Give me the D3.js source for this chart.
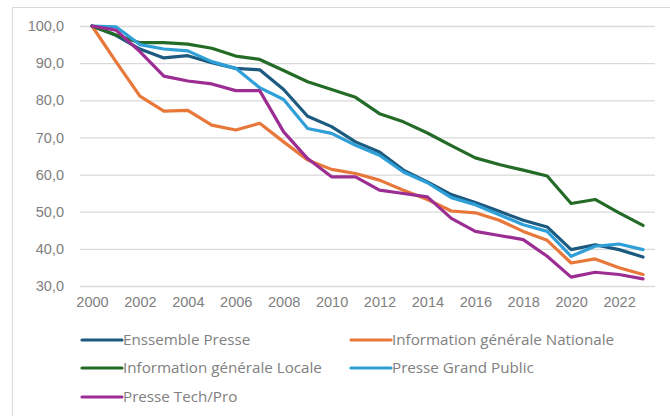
<!DOCTYPE html>
<html>
<head>
<meta charset="utf-8">
<script src="https://cdn.jsdelivr.net/npm/d3@7"></script>
<style>
  body { margin: 0; background: #fff; }
  svg { display: block; font-family: "Open Sans", sans-serif; }
  .tick text { fill: #808080; font-size: 14.5px; }
</style>
</head>
<body>
<div id="chart"></div>
<script>
// years on the x axis (index base 100 in 2000)
const years = d3.range(2000, 2024);
const yTicks = [30, 40, 50, 60, 70, 80, 90, 100];

const ensemble = [100, 97.5, 93.8, 91.4, 92, 90.1, 88.6, 88.2, 82.9, 75.7, 72.9, 68.8, 66.1, 61.2, 58, 54.6, 52.5, 50.1, 47.7, 45.9, 39.8, 41.1, 39.8, 37.8];
const nationale = [100, 90.4, 81.1, 77.1, 77.3, 73.3, 72, 73.8, 68.8, 63.9, 61.4, 60.3, 58.5, 55.8, 53.3, 50.2, 49.7, 47.7, 44.7, 42.3, 36.2, 37.3, 34.9, 33.1];
const locale = [100, 97.6, 95.5, 95.5, 95.1, 94, 91.9, 91, 88, 85, 82.9, 80.8, 76.4, 74.2, 71.2, 67.8, 64.5, 62.7, 61.2, 59.6, 52.2, 53.3, 49.7, 46.3];
const grandPublic = [100, 99.8, 95, 93.8, 93.3, 90.4, 88.6, 83.4, 80.2, 72.4, 71.1, 67.9, 65.2, 60.7, 57.8, 53.8, 51.9, 49.2, 46.5, 44.7, 38, 40.7, 41.3, 39.8];
const techPro = [100, 98.9, 93.1, 86.5, 85.2, 84.4, 82.6, 82.6, 71.5, 64.3, 59.4, 59.4, 55.8, 54.9, 54, 48.2, 44.7, 43.6, 42.5, 38, 32.4, 33.7, 33.1, 31.9];

const seriesNames = ["Enssemble Presse", "Information générale Nationale", "Information générale Locale", "Presse Grand Public", "Presse Tech/Pro"];
const seriesValues = [ensemble, nationale, locale, grandPublic, techPro];
const colors = ["#1c5a80", "#e8773a", "#246b27", "#2f9fd8", "#9b2d93"];

const width = 670, height = 416;

const svg = d3.select("#chart").append("svg")
  .attr("width", width)
  .attr("height", height);

// chart frame
svg.append("rect")
  .attr("x", 12.5).attr("y", 7.5)
  .attr("width", 700).attr("height", 500)
  .attr("fill", "#fff")
  .attr("stroke", "#d9d9d9");

const x = d3.scalePoint()
  .domain(years)
  .range([80, 655])
  .padding(0.5);

const y = d3.scaleLinear()
  .domain([30, 100])
  .range([286, 26]);

// gridlines + y labels
const yAxis = svg.append("g")
  .attr("transform", "translate(80,0)")
  .call(d3.axisLeft(y)
    .tickValues(yTicks)
    .tickSize(-575)
    .tickPadding(16)
    .tickFormat(d => d3.format(".1f")(d).replace(".", ",")));
yAxis.select(".domain").remove();
yAxis.selectAll(".tick line").attr("stroke", "#d9d9d9").attr("stroke-width", 1.3);

// x labels every other year
const xAxis = svg.append("g")
  .attr("transform", "translate(0,286)")
  .call(d3.axisBottom(x)
    .tickValues(years.filter(d => d % 2 === 0))
    .tickSize(0)
    .tickPadding(11));
xAxis.select(".domain").remove();

const line = d3.line()
  .x((d, i) => x(years[i]))
  .y(d => y(d));

svg.selectAll(".series")
  .data(seriesValues)
  .join("path")
  .attr("class", "series")
  .attr("d", d => line(d))
  .attr("fill", "none")
  .attr("stroke", (d, i) => colors[i])
  .attr("stroke-width", 3.2)
  .attr("stroke-linejoin", "round")
  .attr("stroke-linecap", "round");

// legend: two columns, three rows
const legendRows = [340, 368, 397];
const legendCols = [82, 351];
const legend = svg.selectAll(".legend")
  .data(seriesNames)
  .join("g")
  .attr("class", "legend")
  .attr("transform", (d, i) => `translate(${legendCols[i % 2]},${legendRows[Math.floor(i / 2)]})`);

legend.append("line")
  .attr("x1", 0).attr("x2", 40)
  .attr("stroke", (d, i) => colors[i])
  .attr("stroke-width", 3.2)
  .attr("stroke-linecap", "round");

legend.append("text")
  .attr("x", 41)
  .attr("dy", "0.35em")
  .attr("fill", "#808080")
  .style("font-size", "15.2px")
  .text(d => d);
</script>
</body>
</html>
